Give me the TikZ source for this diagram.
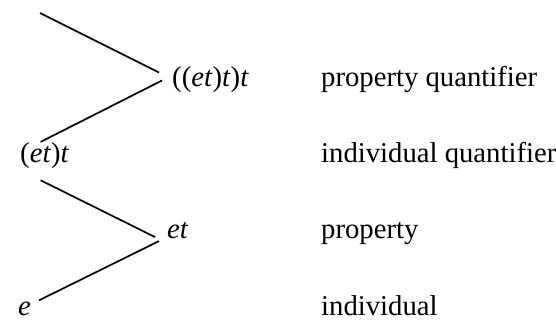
\documentclass[tikz,border=0pt]{standalone}
\usepackage{fontspec}
\setmainfont{Liberation Serif}
\begin{document}
\begin{tikzpicture}[x=1pt,y=-1pt,
  lbl/.style={anchor=base west,inner sep=0pt,font=\fontsize{28.7}{34}\selectfont},
  edge/.style={line width=1.7pt}]
\useasboundingbox (0,0) rectangle (556,329);
\node[lbl] (q) at (172,86) {((\textit{et})\textit{t})\textit{t}};
\node[lbl] (p) at (20,162) {(\textit{et})\textit{t}};
\node[lbl] (r) at (167,238) {\textit{et}};
\node[lbl] (s) at (18,315) {\textit{e}};
\coordinate (top) at (40,13);
\node[lbl] (lq) at (321,86) {property quantifier};
\node[lbl] (lp) at (321,162) {individual quantifier};
\node[lbl] (lr) at (321,238) {property};
\node[lbl] (ls) at (321,315) {individual};
\draw[edge] (top) -- ([xshift=-13pt,yshift=6.6pt]q.west);
\draw[edge] ([xshift=-10pt,yshift=-1.4pt]q.west) -- ([xshift=-4pt]p.north);
\draw[edge] ([xshift=-4pt,yshift=-12pt]p.south) -- ([xshift=-12pt,yshift=-7pt]r.west);
\draw[edge] ([xshift=-8pt,yshift=-11pt]r.west) -- ([xshift=8pt,yshift=1pt]s.north east);
\end{tikzpicture}
\end{document}
